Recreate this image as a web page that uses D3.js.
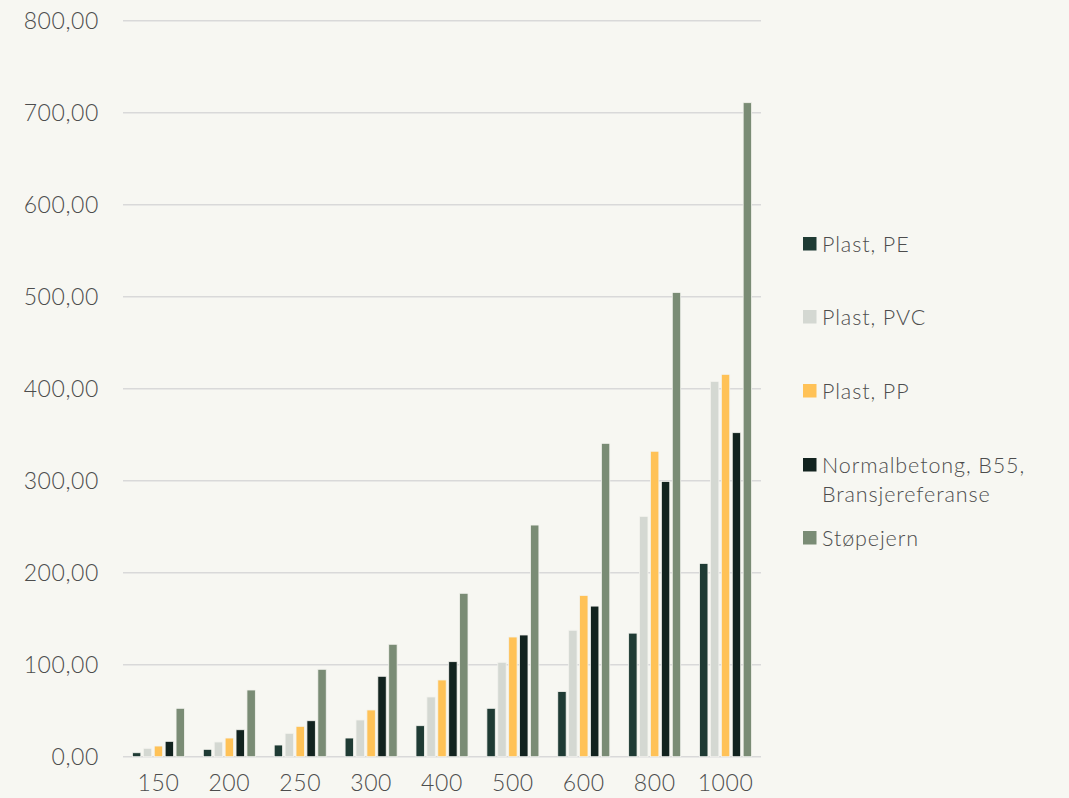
<!DOCTYPE html>
<html>
<head>
<meta charset="utf-8">
<script src="https://cdn.jsdelivr.net/npm/d3@7"></script>
<style>
  html, body { margin: 0; padding: 0; background: #f7f7f2; }
  svg { display: block; }
  text { font-family: Lato, "Open Sans", sans-serif; font-weight: 300; fill: #4d4d4d; }
</style>
</head>
<body>
<svg id="chart" width="1069" height="798"></svg>
<script>
// Pipe diameters (mm) along the x axis
const categories = ["150", "200", "250", "300", "400", "500", "600", "800", "1000"];

// Material series
const seriesNames = ["Plast, PE", "Plast, PVC", "Plast, PP", "Normalbetong, B55, Bransjereferanse", "Støpejern"];
const seriesColors = ["#1f3b34", "#d4d8d2", "#ffc257", "#12231f", "#7a8c75"];

const plastPE      = [4.3, 8.0, 12.7, 20.3, 33.7, 52.6, 70.8, 134.3, 210.1];
const plastPVC     = [9.1, 16.0, 25.4, 39.9, 64.9, 102.6, 137.4, 261.2, 407.9];
const plastPP      = [11.6, 20.3, 33.0, 50.8, 83.4, 130.1, 175.3, 332.0, 415.6];
const normalbetong = [16.7, 29.3, 39.1, 87.4, 103.3, 132.3, 163.7, 299.2, 352.2];
const stopejern    = [52.6, 72.5, 95.0, 122.2, 177.6, 251.8, 340.6, 504.6, 710.9];

const seriesValues = [plastPE, plastPVC, plastPP, normalbetong, stopejern];

// Y axis ticks
const yTicks = [0, 100, 200, 300, 400, 500, 600, 700, 800];

const svg = d3.select("#chart");
const plot = { left: 123, right: 761, top: 20.7, bottom: 756.7 };

const x = d3.scaleBand()
  .domain(categories)
  .range([plot.left, plot.right])
  .paddingInner(0)
  .paddingOuter(0);

const y = d3.scaleLinear()
  .domain([0, 800])
  .range([plot.bottom, plot.top]);

// Series positions inside each category band
const groupWidth = x.bandwidth() * 0.734;
const xs = d3.scaleBand()
  .domain(seriesNames)
  .range([(x.bandwidth() - groupWidth) / 2, (x.bandwidth() + groupWidth) / 2])
  .paddingInner(0.23)
  .paddingOuter(0);

// Gridlines
svg.append("g")
  .selectAll("line")
  .data(yTicks)
  .join("line")
  .attr("x1", plot.left)
  .attr("x2", plot.right)
  .attr("y1", d => y(d))
  .attr("y2", d => y(d))
  .attr("stroke", "#d9d9d9")
  .attr("stroke-width", 1.5);

// Y axis labels
const fmt = d => d3.format(".2f")(d).replace(".", ",");
svg.append("g")
  .selectAll("text")
  .data(yTicks)
  .join("text")
  .attr("x", 99)
  .attr("y", d => y(d))
  .attr("dy", "0.36em")
  .attr("text-anchor", "end")
  .style("font-size", "23px")
  .style("letter-spacing", "0.6px")
  .text(d => fmt(d));

// Bars
const rows = [];
seriesNames.forEach((s, si) => {
  categories.forEach((c, ci) => {
    rows.push({ series: s, si, cat: c, value: seriesValues[si][ci] });
  });
});

svg.append("g")
  .selectAll("rect")
  .data(rows)
  .join("rect")
  .attr("x", d => x(d.cat) + xs(d.series))
  .attr("y", d => y(d.value))
  .attr("width", xs.bandwidth())
  .attr("height", d => y(0) - y(d.value))
  .attr("fill", d => seriesColors[d.si])
  .attr("stroke", "#f3f3ee")
  .attr("stroke-width", 0.8);

// X axis labels
svg.append("g")
  .selectAll("text")
  .data(categories)
  .join("text")
  .attr("x", d => x(d) + x.bandwidth() / 2)
  .attr("y", 791)
  .attr("text-anchor", "middle")
  .style("font-size", "23px")
  .style("letter-spacing", "0.6px")
  .text(d => d);

// Legend
const legendRows = [
  { name: seriesNames[0], lines: ["Plast, PE"], y: 244 },
  { name: seriesNames[1], lines: ["Plast, PVC"], y: 317 },
  { name: seriesNames[2], lines: ["Plast, PP"], y: 391 },
  { name: seriesNames[3], lines: ["Normalbetong, B55,", "Bransjereferanse"], y: 465 },
  { name: seriesNames[4], lines: ["Støpejern"], y: 538 }
];

const legend = svg.append("g");
legendRows.forEach((r, i) => {
  legend.append("rect")
    .attr("x", 803)
    .attr("y", r.y - 7)
    .attr("width", 13.5)
    .attr("height", 13.5)
    .attr("fill", seriesColors[i]);
  r.lines.forEach((line, li) => {
    legend.append("text")
      .attr("x", 822)
      .attr("y", r.y + li * 29)
      .attr("dy", "0.36em")
      .style("font-size", "21.5px")
      .style("letter-spacing", "0.9px")
      .text(line);
  });
});
</script>
</body>
</html>
